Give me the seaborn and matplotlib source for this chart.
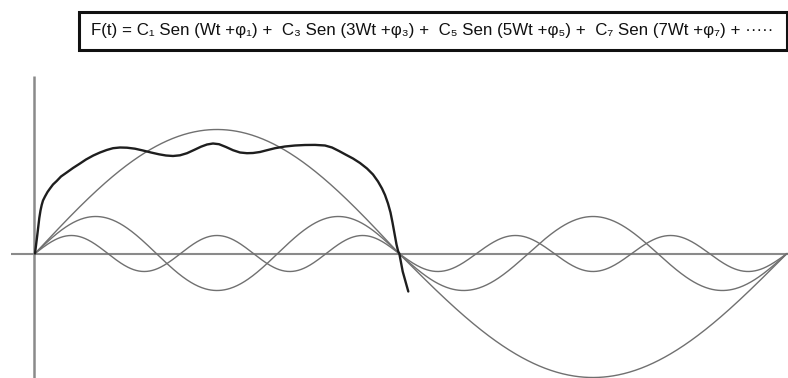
import numpy as np
import pandas as pd
import matplotlib
matplotlib.use("Agg")
import matplotlib.pyplot as plt
import seaborn as sns
from matplotlib.patches import Rectangle

# ---- data ----
harmonics = [1, 3, 5]                 # harmonic order of each drawn component
amplitudes = [124, 37, 18]            # amplitude of each component (chart units)
phase_anchor_t = [0, 364, 752]        # time where phase is 0, pi, 2*pi (scan is slightly uneven)

# hand-drawn resulting wave (sum), read point by point
sum_t = [0, 1, 2.3, 3.3, 4.3, 5.5, 6.7, 8, 10, 12.5, 15, 18, 21.7, 26, 31.7, 38,
         45, 51, 58.3, 65, 71.7, 78, 85, 92, 100, 108, 116, 124, 131, 138, 145,
         152, 159, 166, 172, 178, 184, 191, 198, 205, 212, 218, 225, 232, 240,
         250, 260, 270, 280, 290, 297, 304, 311, 318, 325, 332, 338, 343, 347,
         350, 353, 355.5, 357.5, 359.5, 361.5, 363.2, 364.3, 366, 367.7, 370.5,
         373.3]
sum_v = [0, 8, 18.5, 27, 35.5, 43, 48.5, 53, 57, 61.5, 65, 69, 72.5, 77, 81, 85.5,
         90, 94, 98, 101, 103.5, 105.3, 106, 105.8, 104.8, 103, 101, 99.2, 98, 97.5, 98.2,
         100.3, 103.5, 106.8, 109, 110, 109.3, 106.5, 103.3, 101, 100.3, 100.5, 101.5, 103.3, 105.3,
         107, 108, 108.5, 108.6, 108, 106, 102.5, 98.7, 95, 90.5, 85, 79, 72, 65,
         58.5, 50, 41, 31, 20, 9, 2, 0, -9, -18, -28,
         -38]

title_text = ("F(t) = C\u2081 Sen (Wt +\u03c6\u2081) +  C\u2083 Sen (3Wt +\u03c6\u2083) +  "
              "C\u2085 Sen (5Wt +\u03c6\u2085) +  C\u2087 Sen (7Wt +\u03c6\u2087) + \u00b7\u00b7\u00b7\u00b7\u00b7")

# ---- build tables ----
theta = np.linspace(0, 2 * np.pi, 800)
t_grid = np.interp(theta, [0, np.pi, 2 * np.pi], phase_anchor_t)
rows = []
for n, c in zip(harmonics, amplitudes):
    rows.append(pd.DataFrame({"t": t_grid, "v": c * np.sin(n * theta), "h": f"C{n}"}))
comp = pd.concat(rows, ignore_index=True)
sum_df = pd.DataFrame({"t": sum_t, "v": sum_v})

# ---- draw ----
sns.set_style("white")
plt.rcParams["font.family"] = ["Liberation Sans", "DejaVu Sans"]

fig = plt.figure(figsize=(7.88, 3.78), dpi=100)
ax = fig.add_axes([0, 0, 1, 1])
ax.set_xlim(-35, 753)
ax.set_ylim(-124.5, 253.5)
ax.axis("off")

# axes lines
ax.plot([-24, 753], [0, 0], color="#8a8a8a", lw=1.5, solid_capstyle="butt")
ax.plot([-0.5, -0.5], [-124.5, 177.5], color="#8a8a8a", lw=1.8, solid_capstyle="butt")

for name, g in comp.groupby("h", sort=False):
    sns.lineplot(data=g, x="t", y="v", ax=ax, color="#707070", lw=1.0,
                 sort=False, estimator=None, legend=False)

sns.lineplot(data=sum_df, x="t", y="v", ax=ax, color="#1e1e1e", lw=1.7,
             sort=False, estimator=None, legend=False)

# formula box
ax.add_patch(Rectangle((79 / 788, 1 - 50 / 378), (787 - 79) / 788, (50 - 12) / 378,
                       transform=fig.transFigure, fill=False, ec="#111111", lw=2.2,
                       clip_on=False))
fig.text(91 / 788, 1 - 31 / 378, title_text, fontsize=12.2, color="#111111",
         ha="left", va="center")

fig.savefig("out.png", dpi=100)
